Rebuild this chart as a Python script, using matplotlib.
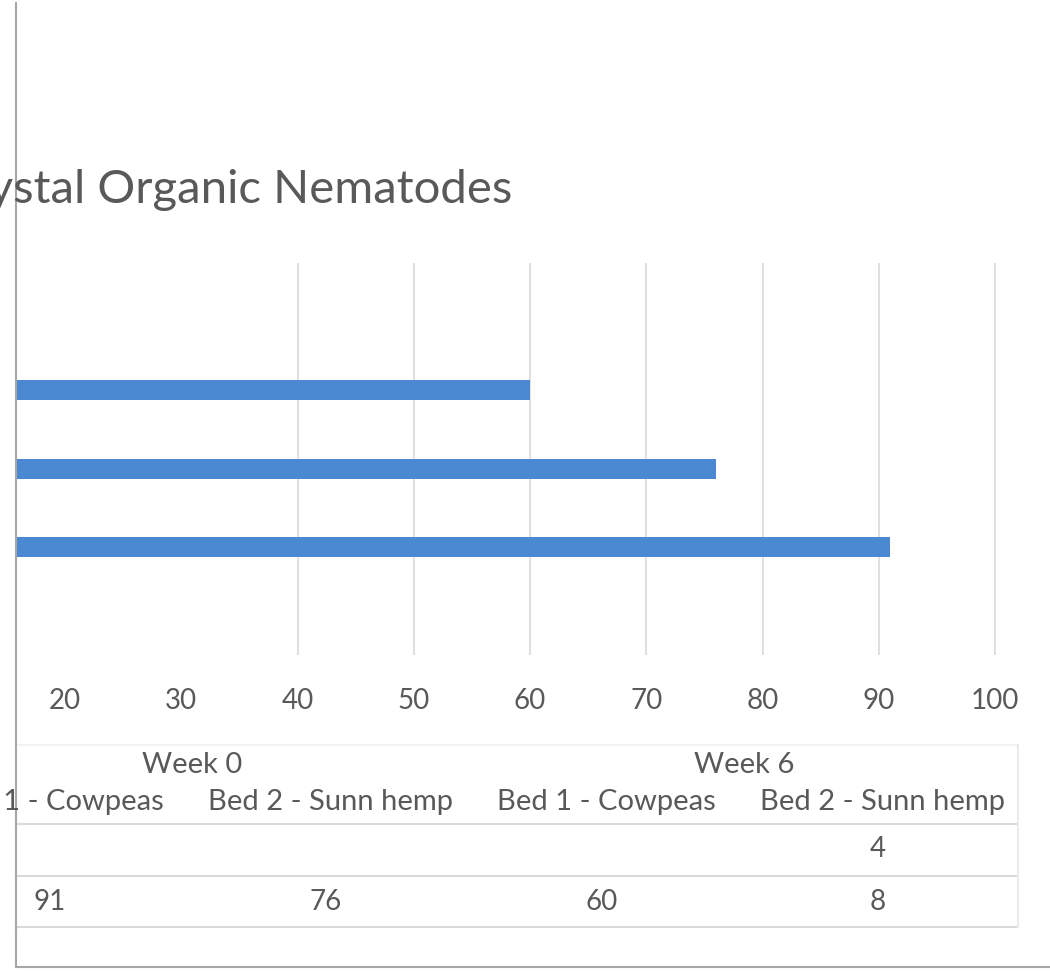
import matplotlib.pyplot as plt
from matplotlib.lines import Line2D
import numpy as np

W, H = 1050, 973

# values shown in the bars and in the data table
title = "Crystal Organic Nematodes"
weeks = ["Week 0", "Week 6"]
beds = ["Bed 1 - Cowpeas", "Bed 2 - Sunn hemp", "Bed 1 - Cowpeas", "Bed 2 - Sunn hemp"]
row_top = [None, None, None, 4]
row_main = [91, 76, 60, 8]
x_ticks = list(range(0, 101, 10))

BLUE = "#4a89d1"
GREY_TXT = "#595959"
GRID = "#d9d9d9"

plt.rcParams['font.family'] = ['Lato', 'DejaVu Sans']


def fx(px):
    return px / W


def fy(py):
    return 1 - py / H


fig = plt.figure(figsize=(W / 100, H / 100), dpi=100)
fig.patch.set_facecolor("white")

# plot area
ax = fig.add_axes([fx(16), fy(655), fx(1050) - fx(16), (655 - 263) / H])

ypos = np.arange(len(row_main))
main_vals = np.array(row_main, dtype=float)
top_vals = np.array([np.nan if v is None else v for v in row_top], dtype=float)
ax.barh(ypos - 0.125, main_vals, height=0.255, color=BLUE, zorder=3)
ax.barh(ypos + 0.125, top_vals, height=0.255, color="#ed7d31", zorder=3)

for t in x_ticks:
    if t >= 40:
        ax.axvline(t, color=GRID, lw=1.2, zorder=1)

ax.set_xticks(x_ticks)
ax.set_xticklabels([str(t) for t in x_ticks])
ax.tick_params(axis='x', length=0, pad=24, labelsize=20, colors=GREY_TXT)
ax.set_yticks([])
for s in ax.spines.values():
    s.set_visible(False)

# view limits last, so the tick call does not widen them
scale = (995 - 65) / 80.0
ax.set_xlim(20 - (65 - 16) / scale, 100 + (1050 - 995) / scale)
ax.set_ylim(-1.5, 3.5)

# chart title, cut off on the left
fig.text(fx(512), fy(190), title, ha='right', va='center', fontsize=34, color=GREY_TXT)

# data table under the axis
col_w = 276
col_c = [54 + i * col_w for i in range(len(beds))]
for g, wk in enumerate(weeks):
    cx = (col_c[2 * g] + col_c[2 * g + 1]) / 2
    fig.text(fx(cx), fy(765), wk, ha='center', va='center', fontsize=21, color=GREY_TXT)
for cx, bed in zip(col_c, beds):
    fig.text(fx(cx), fy(802), bed, ha='center', va='center', fontsize=21, color=GREY_TXT)
for cx, v in zip(col_c, row_top):
    if v is not None:
        fig.text(fx(cx - 4), fy(849), str(v), ha='center', va='center', fontsize=20, color=GREY_TXT)
for cx, v in zip(col_c, row_main):
    fig.text(fx(cx - 4), fy(902), str(v), ha='center', va='center', fontsize=20, color=GREY_TXT)

for py in (824, 876, 927):
    fig.add_artist(Line2D([fx(16), fx(1018)], [fy(py), fy(py)], color=GRID, lw=1.5))
fig.add_artist(Line2D([fx(16), fx(1018)], [fy(745), fy(745)], color="#f0f0f0", lw=1.2))
fig.add_artist(Line2D([fx(1018), fx(1018)], [fy(745), fy(927)], color="#ebebeb", lw=1.5))

# window border
fig.add_artist(Line2D([fx(16), fx(16)], [fy(3), fy(967)], color="#a6a6a6", lw=1.5))
fig.add_artist(Line2D([fx(16), fx(1050)], [fy(967), fy(967)], color="#a6a6a6", lw=1.5))

fig.savefig("out.png", dpi=100, facecolor="white")
